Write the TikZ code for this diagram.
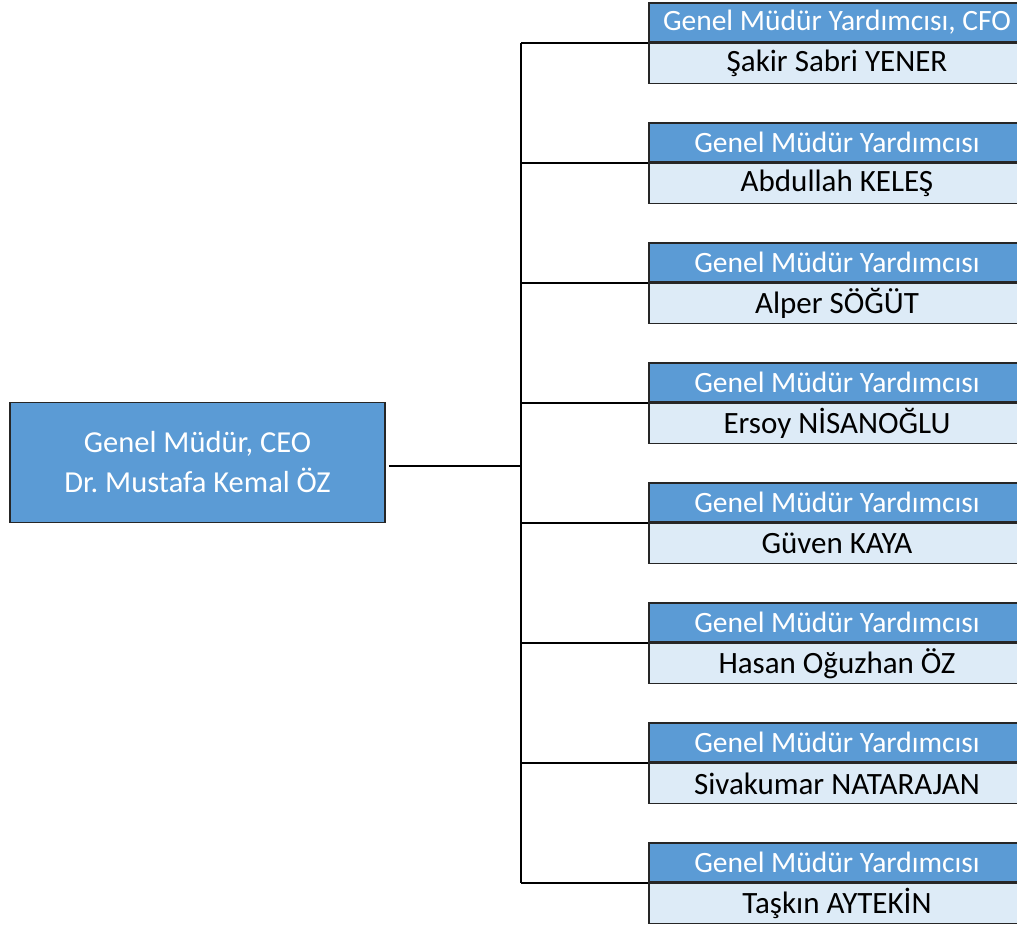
\documentclass[tikz,border=0pt]{standalone}
\usepackage{fontspec}
\setmainfont{Carlito}
\frenchspacing
\usetikzlibrary{positioning}
\definecolor{headblue}{RGB}{91,155,213}
\definecolor{paleblue}{RGB}{221,235,247}
\definecolor{edgegray}{RGB}{38,38,38}

\begin{document}
\begin{tikzpicture}[x=1pt, y=-1pt,
		headbox/.style={draw=edgegray, line width=1.5pt, fill=headblue, text=white, minimum width=376pt, minimum height=39pt, inner sep=0pt, font=\fontsize{29.5}{32}\selectfont},
		namebox/.style={draw=edgegray, line width=1.5pt, fill=paleblue, text=black, minimum width=376pt, minimum height=40pt, inner sep=0pt, font=\fontsize{31}{32}\selectfont},
		ceobox/.style={draw=edgegray, line width=1.5pt, fill=headblue, text=white, minimum width=375pt, minimum height=120pt, align=center, font=\fontsize{30.5}{40}\selectfont},
		link/.style={black, line width=1.5pt}]
		\useasboundingbox (0,0) rectangle (1017,927);
		\clip (0,0) rectangle (1017,927);
		% chief
		\node[ceobox] (ceo) at (197.5,462.5) {Genel Müdür, CEO\\Dr. Mustafa Kemal ÖZ};
		% deputies
		\foreach \k/\who in {0/{Şakir Sabri YENER}, 1/{Abdullah KELEŞ}, 2/{Alper SÖĞÜT}, 3/{Ersoy NİSANOĞLU}, 4/{Güven KAYA}, 5/{Hasan Oğuzhan ÖZ}, 6/{Sivakumar NATARAJAN}, 7/{Taşkın AYTEKİN}}{
			\node[headbox] (h\k) at (837,22.5+120*\k) {\ifnum\k=0 Genel Müdür Yardımcısı, CFO\else Genel Müdür Yardımcısı\fi};
			\node[namebox, below=0pt of h\k] (n\k) {\who};
		}
		% bus
		\coordinate (bus) at (521,466);
		\draw[link] ([xshift=3pt]ceo.east |- bus) -- (bus);
		\draw[link] (h0.south west -| bus) -- (h7.south west -| bus);
		\foreach \k in {0,...,7}{
			\draw[link] (h\k.south west -| bus) -- (h\k.south west);
		}
\end{tikzpicture}
\end{document}
